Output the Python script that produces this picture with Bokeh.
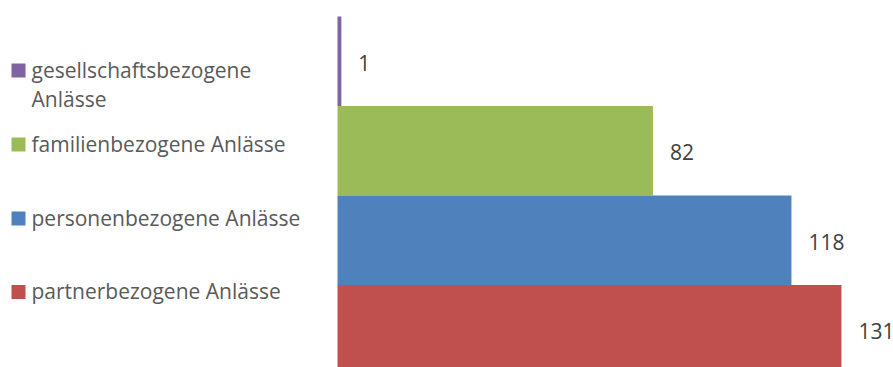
from bokeh.plotting import figure
from bokeh.models import ColumnDataSource, Range1d
from bokeh.core.properties import value
from bokeh.embed import file_html
from bokeh.resources import INLINE

# data (top to bottom as in the chart)
categories = ["gesellschaftsbezogene Anlässe", "familienbezogene Anlässe",
              "personenbezogene Anlässe", "partnerbezogene Anlässe"]
legend_labels = ["gesellschaftsbezogene\nAnlässe", "familienbezogene Anlässe",
                 "personenbezogene Anlässe", "partnerbezogene Anlässe"]
values = [1, 82, 118, 131]
colors = ["#8064A2", "#9BBB59", "#4F81BD", "#C0504D"]

W, H = 893, 367
X0_PX = 337.0          # pixel of value 0
PX_PER_UNIT = 3.847
BAR_PX = 89.5
TOP_PX = 16.0          # top edge of first bar

n = len(categories)
ys = [n - 1 - i for i in range(n)]
y_end = (n - 0.5) + TOP_PX / BAR_PX
y_start = y_end - H / BAR_PX
x_start = -X0_PX / PX_PER_UNIT
x_end = (W - X0_PX) / PX_PER_UNIT

def px_to_x(px):
    return x_start + px / PX_PER_UNIT

def py_to_y(py):
    return y_end - py / BAR_PX

p = figure(width=W, height=H, output_backend="svg", toolbar_location=None,
           x_range=Range1d(x_start, x_end), y_range=Range1d(y_start, y_end),
           min_border=0, min_border_left=0, min_border_right=0,
           min_border_top=0, min_border_bottom=0)
p.axis.visible = False
p.grid.visible = False
p.outline_line_color = None
p.background_fill_color = "white"
p.border_fill_color = "white"

src = ColumnDataSource(dict(y=ys, v=values, c=colors,
                            lab=[str(v) for v in values]))
p.hbar(y="y", left=0, right="v", height=1.0, fill_color="c", line_color=None,
       source=src)

FONT = value("Open Sans")
# value labels
p.text(x="v", y="y", text="lab", source=src, x_offset=17, y_offset=1.5,
       text_baseline="alphabetic", text_align="left",
       text_font=FONT, text_font_size="21px", text_color="#404040")

# legend drawn manually
row_centers_px = [70, 144, 218, 291.5]
mx, my, tx, ty, tt = [], [], [], [], []
for i, lab in enumerate(legend_labels):
    cy = row_centers_px[i]
    mx.append(px_to_x(18))
    my.append(py_to_y(cy))
    for j, line in enumerate(lab.split("\n")):
        tx.append(px_to_x(31))
        ty.append(py_to_y(cy - 1 + 29 * j))
        tt.append(line)

p.rect(x=mx, y=my, width=14, height=14, width_units="screen",
       height_units="screen", fill_color=colors, line_color=None)
p.text(x=tx, y=ty, text=tt, text_baseline="alphabetic", text_align="left",
       text_font=FONT, text_font_size="21px", text_color="#595959")

open("out.html", "w").write(file_html(p, INLINE))
